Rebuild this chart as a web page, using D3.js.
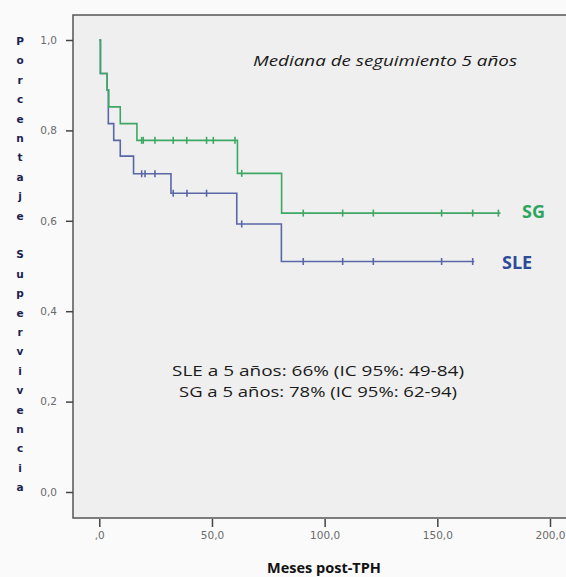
<!DOCTYPE html>
<html>
<head>
<meta charset="utf-8">
<script src="https://cdn.jsdelivr.net/npm/d3@7"></script>
<style>
  html, body { margin: 0; padding: 0; background: #fafafa; overflow: hidden; }
  svg { display: block; }
</style>
</head>
<body>
<svg id="chart" width="566" height="577"></svg>
<script>
// Kaplan-Meier curves: event times (months) and survival after each event
const sgTimes   = [0, 0.5, 3.5, 4.2, 9.3, 16.7, 61.3, 80.9];
const sgSurv    = [1.0, 0.926, 0.889, 0.852, 0.815, 0.778, 0.705, 0.617];
const sgCensor  = [18.8, 19.5, 24.7, 32.8, 38.8, 47.6, 50.6, 60.2, 63.2, 90.5, 108.0, 121.6, 151.9, 165.7, 177.1];
const sgEnd     = 178.0;

const sleTimes  = [0, 0.5, 3.5, 4.0, 6.4, 9.3, 15.2, 31.8, 61.0, 80.8];
const sleSurv   = [1.0, 0.926, 0.889, 0.815, 0.778, 0.743, 0.704, 0.661, 0.593, 0.51];
const sleCensor = [18.8, 20.3, 24.7, 32.8, 38.9, 47.6, 63.2, 90.5, 108.0, 121.6, 151.9, 165.7];
const sleEnd    = 166.4;

const xTicks = [0, 50, 100, 150, 200];
const xTickLabels = [",0", "50,0", "100,0", "150,0", "200,0"];
const yTicks = [0, 0.2, 0.4, 0.6, 0.8, 1.0];
const yTickLabels = ["0,0", "0,2", "0,4", "0,6", "0,8", "1,0"];

const yTitle = "Porcentaje Supervivencia";
const xTitle = "Meses post-TPH";
const noteTop = "Mediana de seguimiento 5 años";
const noteLines = ["SLE a 5 años: 66% (IC 95%: 49-84)", "SG a 5 años: 78% (IC 95%: 62-94)"];

const green = "#3da866";
const blue = "#5a67a6";

const svg = d3.select("#chart");

const x = d3.scaleLinear().domain([0, 200]).range([99.3, 550]);
const y = d3.scaleLinear().domain([0, 1]).range([492, 40]);

// plot frame (right side runs past the page edge)
const frame = { left: 73, top: 15, right: 640, bottom: 518 };
svg.append("rect")
  .attr("x", frame.left).attr("y", frame.top)
  .attr("width", frame.right - frame.left).attr("height", frame.bottom - frame.top)
  .attr("fill", "#efefef")
  .attr("stroke", "#555").attr("stroke-width", 1.5);

// y axis
const yAxis = d3.axisLeft(y).tickValues(yTicks)
  .tickFormat((d, i) => yTickLabels[i]).tickSize(7).tickPadding(9);
const gy = svg.append("g").attr("transform", `translate(${frame.left},0)`).call(yAxis);
gy.select(".domain").remove();
gy.selectAll("line").attr("stroke", "#444").attr("stroke-width", 1.5);
gy.selectAll("text").attr("fill", "#6a6a6a")
  .style("font-family", "'DejaVu Sans', sans-serif").style("font-size", "10.5px");

// x axis (ticks sit just under the frame line)
const xAxis = d3.axisBottom(x).tickValues(xTicks)
  .tickFormat((d, i) => xTickLabels[i]).tickSize(8).tickPadding(5);
const gx = svg.append("g").attr("transform", `translate(0,${frame.bottom + 1})`).call(xAxis);
gx.select(".domain").remove();
gx.selectAll("line").attr("stroke", "#444").attr("stroke-width", 1.5);
gx.selectAll("text").attr("fill", "#6a6a6a")
  .style("font-family", "'DejaVu Sans', sans-serif").style("font-size", "10.5px");

// survival step curves
function drawCurve(times, surv, censor, end, color) {
  const pts = times.map((t, i) => [t, surv[i]]);
  pts.push([end, surv[surv.length - 1]]);
  const line = d3.line().x(d => x(d[0])).y(d => y(d[1])).curve(d3.curveStepAfter);
  svg.append("path").attr("d", line(pts))
    .attr("fill", "none").attr("stroke", color).attr("stroke-width", 1.6);
  const survAt = t => {
    let v = surv[0];
    times.forEach((tt, i) => { if (tt <= t) v = surv[i]; });
    return v;
  };
  svg.append("g").selectAll("line").data(censor).join("line")
    .attr("x1", d => x(d)).attr("x2", d => x(d))
    .attr("y1", d => y(survAt(d)) - 3.5).attr("y2", d => y(survAt(d)) + 3.5)
    .attr("stroke", color).attr("stroke-width", 1.6);
}
drawCurve(sleTimes, sleSurv, sleCensor, sleEnd, blue);
drawCurve(sgTimes, sgSurv, sgCensor, sgEnd, green);

// series labels
svg.append("text").attr("x", 522).attr("y", 218).text("SG")
  .attr("fill", "#2ea55e").style("font-family", "'Open Sans', sans-serif")
  .style("font-weight", "bold").style("font-size", "18px");
svg.append("text").attr("x", 502).attr("y", 269).text("SLE")
  .attr("fill", "#2d4b99").style("font-family", "'Open Sans', sans-serif")
  .style("font-weight", "bold").style("font-size", "18px");

// annotations
svg.append("text").attr("x", 253).attr("y", 66).text(noteTop)
  .attr("fill", "#1a1a1a").style("font-family", "'Open Sans', sans-serif")
  .style("font-style", "italic").style("font-size", "15px")
  .attr("textLength", 264).attr("lengthAdjust", "spacingAndGlyphs");
svg.append("g").selectAll("text").data(noteLines).join("text")
  .attr("x", 318).attr("y", (d, i) => 376 + i * 21)
  .attr("text-anchor", "middle").text(d => d)
  .attr("fill", "#1a1a1a").style("font-family", "'Open Sans', sans-serif")
  .style("font-size", "14.5px")
  .attr("textLength", (d, i) => i === 0 ? 292 : 278).attr("lengthAdjust", "spacingAndGlyphs");

// vertical y title, one letter per line
svg.append("g").selectAll("text").data(yTitle.split("")).join("text")
  .attr("x", 20).attr("y", (d, i) => 45 + i * 19.4)
  .attr("text-anchor", "middle").text(d => d)
  .attr("fill", "#1c2250").style("font-family", "'DejaVu Sans', sans-serif")
  .style("font-weight", "bold").style("font-size", "10.5px");

// x title
svg.append("text").attr("x", 324).attr("y", 573).attr("text-anchor", "middle").text(xTitle)
  .attr("fill", "#111").style("font-family", "'Open Sans', sans-serif")
  .style("font-weight", "bold").style("font-size", "14.5px");
</script>
</body>
</html>
